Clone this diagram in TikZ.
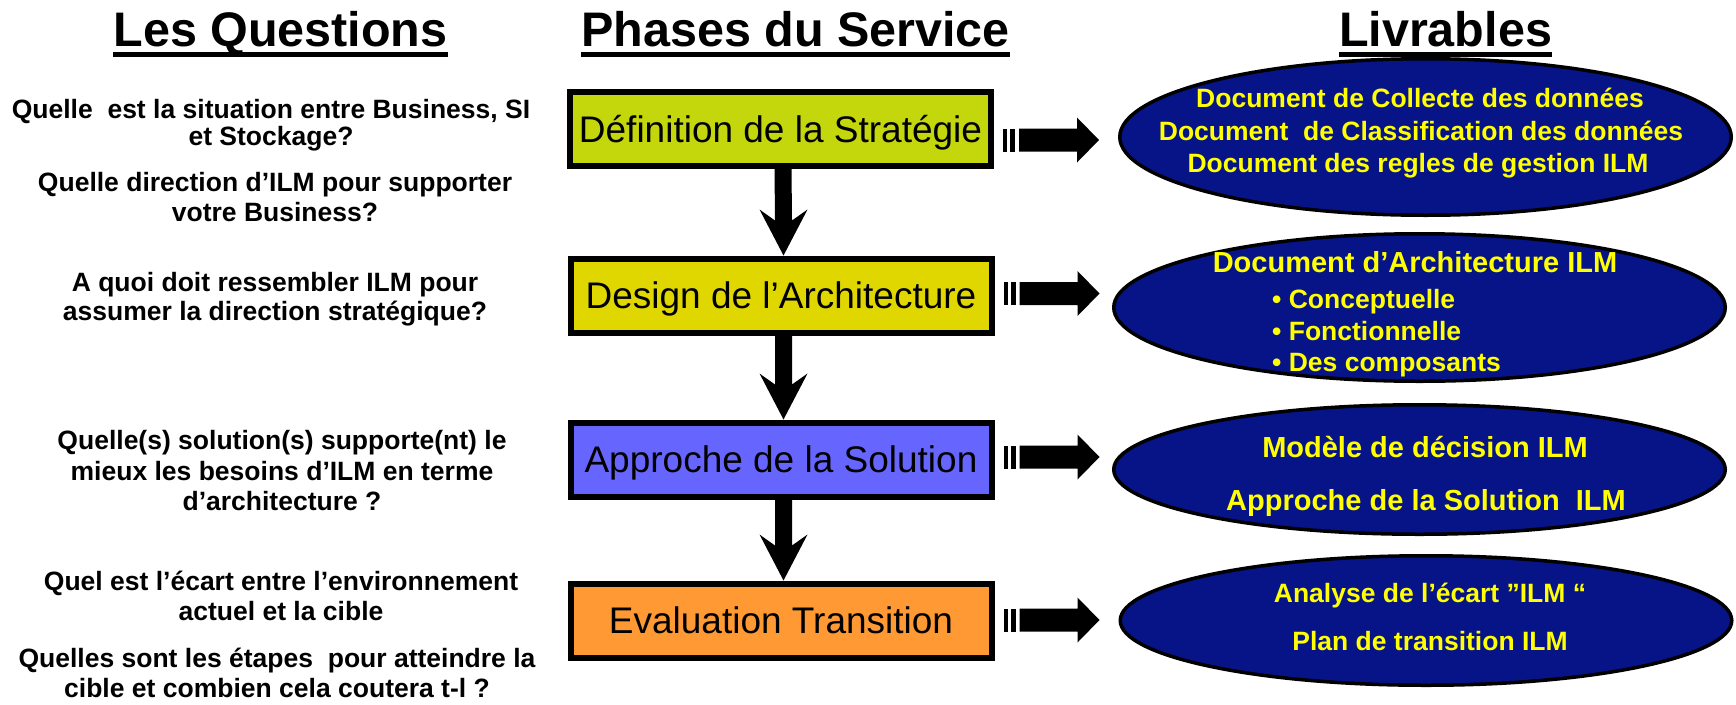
\documentclass[tikz,border=0pt]{standalone}
\usepackage{fontspec}
\setmainfont{Liberation Sans}
\usetikzlibrary{calc,shapes.geometric}
\definecolor{limebox}{RGB}{196,214,12}
\definecolor{yelbox}{RGB}{225,215,0}
\definecolor{bluebox}{RGB}{102,102,255}
\definecolor{orangebox}{RGB}{255,153,51}
\definecolor{ellnavy}{RGB}{6,20,135}
\definecolor{ylw}{RGB}{255,255,0}
% down arrow from node #1 to node #2
\newcommand\ilmdown[2]{%
  \fill ($(#1.south)+(-6,0)$) -- ($(#2.north)+(-6,-35)$) -- ($(#2.north)+(-21.5,-46)$)
    -- ($(#2.north)+(2.5,0)$) -- ($(#2.north)+(26.5,-46)$) -- ($(#2.north)+(11,-35)$)
    -- ($(#1.south)+(11,0)$) -- cycle;}
% right striped arrow leaving node #1, vertical offset #2
\newcommand\ilmright[2]{%
  \fill ($(#1.east)+(9,#2-11.5)$) rectangle ($(#1.east)+(13,#2+11.5)$);
  \fill ($(#1.east)+(16,#2-11.5)$) rectangle ($(#1.east)+(21,#2+11.5)$);
  \fill ($(#1.east)+(25,#2-11.5)$) -- ($(#1.east)+(83,#2-11.5)$) -- ($(#1.east)+(83,#2-22.5)$)
    -- ($(#1.east)+(105,#2)$) -- ($(#1.east)+(83,#2+22.5)$) -- ($(#1.east)+(83,#2+11.5)$)
    -- ($(#1.east)+(25,#2+11.5)$) -- cycle;}
\begin{document}
\begin{tikzpicture}[x=1pt,y=-1pt,
  title/.style={font=\fontsize{48.5}{52}\selectfont\bfseries, inner sep=0pt, anchor=base},
  quest/.style={font=\fontsize{26.5}{30}\selectfont\bfseries, inner sep=0pt, anchor=base},
  phase/.style={draw=black, line width=6pt, minimum width=421pt, minimum height=74pt,
    inner sep=0pt, font=\fontsize{37}{40}\selectfont, text height=26.5pt, text depth=0pt},
  livr/.style={ellipse, draw=black, line width=3.5pt, fill=ellnavy, minimum width=611.5pt, inner sep=0pt},
  ltext/.style={font=\fontsize{26.5}{30}\selectfont\bfseries, text=ylw, inner sep=0pt, anchor=base},
  lhead/.style={ltext, font=\fontsize{29}{32}\selectfont\bfseries},
]
\useasboundingbox[fill=white] (0,0) rectangle (1736,704);

% titles
\node[title] (tq) at (280.5,46.7) {Les Questions};
\node[title] (tp) at (795.5,46.7) {Phases du Service};
\node[title] (tl) at (1445.5,46.7) {Livrables};
\foreach \t in {tq,tp,tl}
  \draw[line width=5pt] ($(\t.base west)+(0,7.8)$) -- ($(\t.base east)+(0,7.8)$);

% questions
\node[quest] (q1a) at (271,118) {Quelle\ \ est la situation entre Business, SI};
\node[quest] (q1b) at (271,145.5) {et Stockage?};
\node[quest] (q2a) at (275,191.5) {Quelle direction d’ILM pour supporter};
\node[quest] (q2b) at (275,221.7) {votre Business?};
\node[quest] (q3a) at (275,291.5) {A quoi doit ressembler ILM pour};
\node[quest] (q3b) at (275,320) {assumer la direction stratégique?};
\node[quest] (q4a) at (282,449) {Quelle(s) solution(s) supporte(nt) le};
\node[quest] (q4b) at (282,480.5) {mieux les besoins d’ILM en terme};
\node[quest] (q4c) at (282,510.5) {d’architecture ?};
\node[quest] (q5a) at (281,590.7) {Quel est l’écart entre l’environnement};
\node[quest] (q5b) at (281,620.7) {actuel et la cible};
\node[quest] (q6a) at (277,667.3) {Quelles sont les étapes\ \ pour atteindre la};
\node[quest] (q6b) at (277,697.3) {cible et combien cela coutera t-l ?};

% phases
\node[phase, fill=limebox] (b1) at (780.5,129) {Définition de la Stratégie};
\node[phase, fill=yelbox] (b2) at (781,295.5) {Design de l’Architecture};
\node[phase, fill=bluebox] (b3) at (781,459.5) {Approche de la Solution};
\node[phase, fill=orangebox] (b4) at (781,620.5) {Evaluation Transition};

\ilmdown{b1}{b2}
\ilmdown{b2}{b3}
\ilmdown{b3}{b4}

\ilmright{b1}{11}
\ilmright{b2}{-2}
\ilmright{b3}{-2.5}
\ilmright{b4}{-0.5}

% deliverables
\node[livr, minimum height=156.5pt] (e1) at (1425.5,137) {};
\node[livr, minimum height=147.5pt] (e2) at (1419.5,307.5) {};
\node[livr, minimum height=129.5pt] (e3) at (1419.5,469.5) {};
\node[livr, minimum height=129.5pt] (e4) at (1426,620.5) {};

\node[ltext] (l1a) at (1420,107) {Document de Collecte des données};
\node[ltext] (l1b) at (1421,140) {Document\ \ de Classification des données};
\node[ltext] (l1c) at (1418,172) {Document des regles de gestion ILM};
\node[lhead] (l2a) at (1415,272) {Document d’Architecture ILM};
\node[ltext, anchor=base west] (l2b) at (1272,308) {• Conceptuelle};
\node[ltext, anchor=base west] (l2c) at (1272,340) {• Fonctionnelle};
\node[ltext, anchor=base west] (l2d) at (1272,371) {• Des composants};
\node[lhead] (l3a) at (1425,457) {Modèle de décision ILM};
\node[lhead] (l3b) at (1426,510) {Approche de la Solution\ \ ILM};
\node[ltext] (l4a) at (1430,602) {Analyse de l’écart ”ILM “};
\node[ltext] (l4b) at (1430,650) {Plan de transition ILM};
\end{tikzpicture}
\end{document}
